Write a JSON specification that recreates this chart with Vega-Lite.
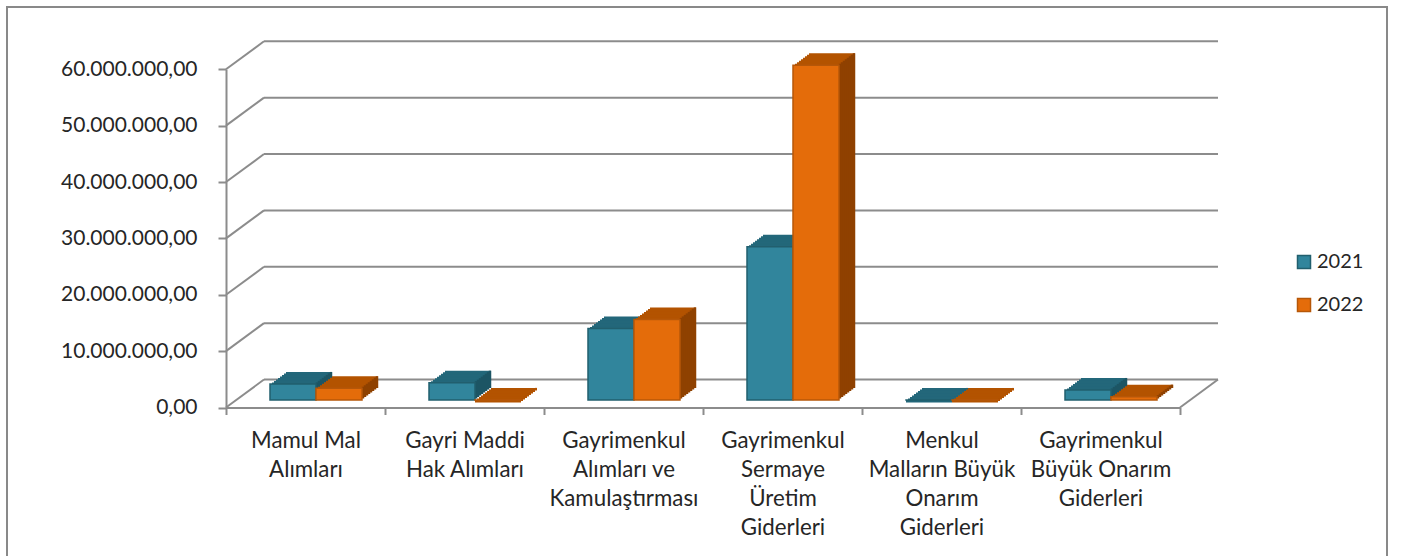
{
  "$schema": "https://vega.github.io/schema/vega-lite/v6.json",
  "width": 1380,
  "height": 560,
  "autosize": {"type": "none"},
  "padding": {"left": 7, "top": 7, "right": 16, "bottom": -11},
  "background": "white",
  "config": {
    "view": {"stroke": "#898989", "strokeWidth": 2},
    "font": "Lato",
    "locale": {"number": {"decimal": ",", "thousands": ".", "grouping": [3], "currency": ["", ""]}}
  },
  "datasets": {
    "bars": [
      {"cat": "Mamul Mal Alımları", "year": "2021", "value": 2850000},
      {"cat": "Mamul Mal Alımları", "year": "2022", "value": 2080000},
      {"cat": "Gayri Maddi Hak Alımları", "year": "2021", "value": 3070000},
      {"cat": "Gayri Maddi Hak Alımları", "year": "2022", "value": 20000},
      {"cat": "Gayrimenkul Alımları ve Kamulaştırması", "year": "2021", "value": 12700000},
      {"cat": "Gayrimenkul Alımları ve Kamulaştırması", "year": "2022", "value": 14300000},
      {"cat": "Gayrimenkul Sermaye Üretim Giderleri", "year": "2021", "value": 27200000},
      {"cat": "Gayrimenkul Sermaye Üretim Giderleri", "year": "2022", "value": 59400000},
      {"cat": "Menkul Malların Büyük Onarım Giderleri", "year": "2021", "value": 10000},
      {"cat": "Menkul Malların Büyük Onarım Giderleri", "year": "2022", "value": 10000},
      {"cat": "Gayrimenkul Büyük Onarım Giderleri", "year": "2021", "value": 1780000},
      {"cat": "Gayrimenkul Büyük Onarım Giderleri", "year": "2022", "value": 590000}
    ],
    "grid": [
      {"value": 0}, {"value": 10000000}, {"value": 20000000}, {"value": 30000000},
      {"value": 40000000}, {"value": 50000000}, {"value": 60000000}
    ]
  },
  "encoding": {
    "y": {
      "field": "value",
      "type": "quantitative",
      "scale": {"domain": [0, 60000000], "range": [400.5, 62.3], "nice": false, "zero": false},
      "axis": {
        "title": null,
        "values": [0, 10000000, 20000000, 30000000, 40000000, 50000000, 60000000],
        "format": ",.2f",
        "offset": -219,
        "grid": false,
        "domainColor": "#8c8c8c",
        "domainWidth": 2,
        "tickColor": "#8c8c8c",
        "tickWidth": 2,
        "tickSize": 8,
        "labelFont": "Lato",
        "labelFontSize": 21,
        "labelColor": "#262626",
        "labelPadding": 21
      }
    }
  },
  "layer": [
    {
      "data": {"name": "grid"},
      "encoding": {
        "x": {"datum": 0, "type": "quantitative", "scale": {"domain": [0, 6], "range": [219, 1173]}, "axis": null}
      },
      "layer": [
        {
          "mark": {"type": "rule", "color": "#8c8c8c", "strokeWidth": 2, "xOffset": 38, "x2Offset": 38, "yOffset": -28},
          "encoding": {"x2": {"datum": 6}}
        },
        {
          "mark": {"type": "rule", "color": "#8c8c8c", "strokeWidth": 2, "x2Offset": 38, "y2Offset": -28},
          "encoding": {"x2": {"datum": 0}, "y2": {"field": "value"}}
        },
        {
          "transform": [{"filter": "datum.value == 0"}],
          "mark": {"type": "rule", "color": "#8c8c8c", "strokeWidth": 2, "x2Offset": 38, "y2Offset": -28},
          "encoding": {"x": {"datum": 6, "type": "quantitative"}, "x2": {"datum": 6}, "y2": {"field": "value"}}
        }
      ]
    },
    {
      "data": {"name": "bars"},
      "encoding": {
        "x": {
          "field": "cat",
          "type": "nominal",
          "sort": null,
          "scale": {
            "domain": ["Mamul Mal Alımları", "Gayri Maddi Hak Alımları", "Gayrimenkul Alımları ve Kamulaştırması", "Gayrimenkul Sermaye Üretim Giderleri", "Menkul Malların Büyük Onarım Giderleri", "Gayrimenkul Büyük Onarım Giderleri"],
            "range": [219, 1173],
            "paddingInner": 0,
            "paddingOuter": 0
          },
          "axis": {
            "title": null,
            "orient": "bottom",
            "offset": -159.5,
            "tickBand": "extent",
            "domainColor": "#8c8c8c",
            "domainWidth": 2,
            "tickColor": "#8c8c8c",
            "tickWidth": 2,
            "tickSize": 7,
            "labelAngle": 0,
            "labelFont": "Lato",
            "labelFontSize": 22.3,
            "labelLineHeight": 29,
            "labelPadding": 15,
            "labelColor": "#262626",
            "labelOverlap": false,
            "labelLimit": 0,
            "labelExpr": "datum.value == 'Mamul Mal Alımları' ? ['Mamul Mal', 'Alımları'] : datum.value == 'Gayri Maddi Hak Alımları' ? ['Gayri Maddi', 'Hak Alımları'] : datum.value == 'Gayrimenkul Alımları ve Kamulaştırması' ? ['Gayrimenkul', 'Alımları ve', 'Kamulaştırması'] : datum.value == 'Gayrimenkul Sermaye Üretim Giderleri' ? ['Gayrimenkul', 'Sermaye', 'Üretim', 'Giderleri'] : datum.value == 'Menkul Malların Büyük Onarım Giderleri' ? ['Menkul', 'Malların Büyük', 'Onarım', 'Giderleri'] : datum.value == 'Gayrimenkul Büyük Onarım Giderleri' ? ['Gayrimenkul', 'Büyük Onarım', 'Giderleri'] : ''"
          }
        }
      },
      "layer": [
        {
          "transform": [{"filter": "datum.year == '2021'"}],
          "layer": [
            {"mark": {"type": "bar", "width": 46, "color": "#23677A", "xOffset": -12.5, "yOffset": -7.5, "y2Offset": -5}, "encoding": {"y2": {"field": "value"}}},
            {"mark": {"type": "bar", "width": 46, "color": "#23677A", "xOffset": -10.5, "yOffset": -9, "y2Offset": -6.5}, "encoding": {"y2": {"field": "value"}}},
            {"mark": {"type": "bar", "width": 46, "color": "#23677A", "xOffset": -8.5, "yOffset": -10.5, "y2Offset": -8}, "encoding": {"y2": {"field": "value"}}},
            {"mark": {"type": "bar", "width": 46, "color": "#23677A", "xOffset": -6.5, "yOffset": -12, "y2Offset": -9.5}, "encoding": {"y2": {"field": "value"}}},
            {"mark": {"type": "bar", "width": 46, "color": "#23677A", "xOffset": -4.5, "yOffset": -13.5, "y2Offset": -11}, "encoding": {"y2": {"field": "value"}}},
            {"mark": {"type": "bar", "width": 46, "color": "#23677A", "xOffset": -2.5, "yOffset": -15, "y2Offset": -12.5}, "encoding": {"y2": {"field": "value"}}},
            {"mark": {"type": "bar", "width": 46, "color": "#23677A", "xOffset": -0.5, "yOffset": -16.5, "y2Offset": -14}, "encoding": {"y2": {"field": "value"}}},
            {"mark": {"type": "bar", "width": 46, "color": "#23677A", "xOffset": 1.5, "yOffset": -18, "y2Offset": -15.5}, "encoding": {"y2": {"field": "value"}}},
            {"mark": {"type": "bar", "width": 46, "color": "#23677A", "xOffset": 3.5, "yOffset": -19.5, "y2Offset": -17}, "encoding": {"y2": {"field": "value"}}},
            {"mark": {"type": "bar", "width": 2.5, "color": "#1C5564", "xOffset": 11.5, "yOffset": -9, "y2Offset": -9}, "encoding": {"y2": {"datum": 0}}},
            {"mark": {"type": "bar", "width": 2.5, "color": "#1C5564", "xOffset": 13.5, "yOffset": -10.5, "y2Offset": -10.5}, "encoding": {"y2": {"datum": 0}}},
            {"mark": {"type": "bar", "width": 2.5, "color": "#1C5564", "xOffset": 15.5, "yOffset": -12, "y2Offset": -12}, "encoding": {"y2": {"datum": 0}}},
            {"mark": {"type": "bar", "width": 2.5, "color": "#1C5564", "xOffset": 17.5, "yOffset": -13.5, "y2Offset": -13.5}, "encoding": {"y2": {"datum": 0}}},
            {"mark": {"type": "bar", "width": 2.5, "color": "#1C5564", "xOffset": 19.5, "yOffset": -15, "y2Offset": -15}, "encoding": {"y2": {"datum": 0}}},
            {"mark": {"type": "bar", "width": 2.5, "color": "#1C5564", "xOffset": 21.5, "yOffset": -16.5, "y2Offset": -16.5}, "encoding": {"y2": {"datum": 0}}},
            {"mark": {"type": "bar", "width": 2.5, "color": "#1C5564", "xOffset": 23.5, "yOffset": -18, "y2Offset": -18}, "encoding": {"y2": {"datum": 0}}},
            {"mark": {"type": "bar", "width": 2.5, "color": "#1C5564", "xOffset": 25.5, "yOffset": -19.5, "y2Offset": -19.5}, "encoding": {"y2": {"datum": 0}}},
            {
              "mark": {"type": "bar", "width": 46, "xOffset": -12.5, "yOffset": -7.5, "y2Offset": -7.5, "strokeWidth": 1.5},
              "encoding": {
                "y2": {"datum": 0},
                "color": {"field": "year", "type": "nominal", "scale": {"domain": ["2021", "2022"], "range": ["#31859C", "#E46C0A"]},
                  "legend": {"title": null, "orient": "none", "legendX": 1287, "legendY": 245, "symbolType": "square", "symbolSize": 169, "symbolStrokeWidth": 1.5, "labelFont": "Lato", "labelFontSize": 20, "labelColor": "#262626", "labelOffset": 3, "rowPadding": 23, "padding": 0}},
                "stroke": {"field": "year", "type": "nominal", "scale": {"domain": ["2021", "2022"], "range": ["#215F6E", "#B65708"]}}
              }
            }
          ]
        },
        {
          "transform": [{"filter": "datum.year == '2022'"}],
          "layer": [
            {"mark": {"type": "bar", "width": 46, "color": "#B35300", "xOffset": 33.5, "yOffset": -7.5, "y2Offset": -5}, "encoding": {"y2": {"field": "value"}}},
            {"mark": {"type": "bar", "width": 46, "color": "#B35300", "xOffset": 35.5, "yOffset": -9, "y2Offset": -6.5}, "encoding": {"y2": {"field": "value"}}},
            {"mark": {"type": "bar", "width": 46, "color": "#B35300", "xOffset": 37.5, "yOffset": -10.5, "y2Offset": -8}, "encoding": {"y2": {"field": "value"}}},
            {"mark": {"type": "bar", "width": 46, "color": "#B35300", "xOffset": 39.5, "yOffset": -12, "y2Offset": -9.5}, "encoding": {"y2": {"field": "value"}}},
            {"mark": {"type": "bar", "width": 46, "color": "#B35300", "xOffset": 41.5, "yOffset": -13.5, "y2Offset": -11}, "encoding": {"y2": {"field": "value"}}},
            {"mark": {"type": "bar", "width": 46, "color": "#B35300", "xOffset": 43.5, "yOffset": -15, "y2Offset": -12.5}, "encoding": {"y2": {"field": "value"}}},
            {"mark": {"type": "bar", "width": 46, "color": "#B35300", "xOffset": 45.5, "yOffset": -16.5, "y2Offset": -14}, "encoding": {"y2": {"field": "value"}}},
            {"mark": {"type": "bar", "width": 46, "color": "#B35300", "xOffset": 47.5, "yOffset": -18, "y2Offset": -15.5}, "encoding": {"y2": {"field": "value"}}},
            {"mark": {"type": "bar", "width": 46, "color": "#B35300", "xOffset": 49.5, "yOffset": -19.5, "y2Offset": -17}, "encoding": {"y2": {"field": "value"}}},
            {"mark": {"type": "bar", "width": 2.5, "color": "#8F4100", "xOffset": 57.5, "yOffset": -9, "y2Offset": -9}, "encoding": {"y2": {"datum": 0}}},
            {"mark": {"type": "bar", "width": 2.5, "color": "#8F4100", "xOffset": 59.5, "yOffset": -10.5, "y2Offset": -10.5}, "encoding": {"y2": {"datum": 0}}},
            {"mark": {"type": "bar", "width": 2.5, "color": "#8F4100", "xOffset": 61.5, "yOffset": -12, "y2Offset": -12}, "encoding": {"y2": {"datum": 0}}},
            {"mark": {"type": "bar", "width": 2.5, "color": "#8F4100", "xOffset": 63.5, "yOffset": -13.5, "y2Offset": -13.5}, "encoding": {"y2": {"datum": 0}}},
            {"mark": {"type": "bar", "width": 2.5, "color": "#8F4100", "xOffset": 65.5, "yOffset": -15, "y2Offset": -15}, "encoding": {"y2": {"datum": 0}}},
            {"mark": {"type": "bar", "width": 2.5, "color": "#8F4100", "xOffset": 67.5, "yOffset": -16.5, "y2Offset": -16.5}, "encoding": {"y2": {"datum": 0}}},
            {"mark": {"type": "bar", "width": 2.5, "color": "#8F4100", "xOffset": 69.5, "yOffset": -18, "y2Offset": -18}, "encoding": {"y2": {"datum": 0}}},
            {"mark": {"type": "bar", "width": 2.5, "color": "#8F4100", "xOffset": 71.5, "yOffset": -19.5, "y2Offset": -19.5}, "encoding": {"y2": {"datum": 0}}},
            {
              "mark": {"type": "bar", "width": 46, "xOffset": 33.5, "yOffset": -7.5, "y2Offset": -7.5, "strokeWidth": 1.5},
              "encoding": {
                "y2": {"datum": 0},
                "color": {"field": "year", "type": "nominal", "scale": {"domain": ["2021", "2022"], "range": ["#31859C", "#E46C0A"]}},
                "stroke": {"field": "year", "type": "nominal", "scale": {"domain": ["2021", "2022"], "range": ["#215F6E", "#B65708"]}}
              }
            }
          ]
        }
      ]
    }
  ],
  "resolve": {"scale": {"x": "independent"}}
}
